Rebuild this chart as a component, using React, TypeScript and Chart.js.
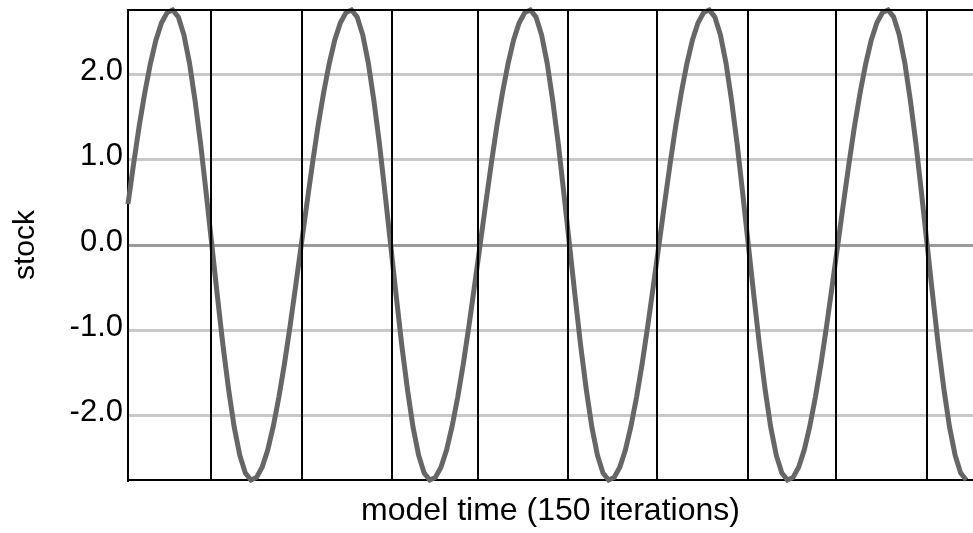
import React, { useEffect, useRef } from "react";
import { Chart, registerables } from "chart.js";

Chart.register(...registerables);

// stock value at each iteration 0..150
const stockValues: number[] = [
  0.48, 0.95, 1.39, 1.78, 2.12, 2.40, 2.60, 2.72, 2.75, 2.67, 2.46, 2.13, 1.69, 1.18, 0.60, 0.00,
  -0.60, -1.18, -1.69, -2.13, -2.46, -2.67, -2.75, -2.72, -2.60, -2.40, -2.12, -1.78, -1.39, -0.95, -0.48, 0.00,
  0.48, 0.95, 1.39, 1.78, 2.12, 2.40, 2.60, 2.72, 2.75, 2.67, 2.46, 2.13, 1.69, 1.18, 0.60, 0.00,
  -0.60, -1.18, -1.69, -2.13, -2.46, -2.67, -2.75, -2.72, -2.60, -2.40, -2.12, -1.78, -1.39, -0.95, -0.48, 0.00,
  0.48, 0.95, 1.39, 1.78, 2.12, 2.40, 2.60, 2.72, 2.75, 2.67, 2.46, 2.13, 1.69, 1.18, 0.60, 0.00,
  -0.60, -1.18, -1.69, -2.13, -2.46, -2.67, -2.75, -2.72, -2.60, -2.40, -2.12, -1.78, -1.39, -0.95, -0.48, 0.00,
  0.48, 0.95, 1.39, 1.78, 2.12, 2.40, 2.60, 2.72, 2.75, 2.67, 2.46, 2.13, 1.69, 1.18, 0.60, 0.00,
  -0.60, -1.18, -1.69, -2.13, -2.46, -2.67, -2.75, -2.72, -2.60, -2.40, -2.12, -1.78, -1.39, -0.95, -0.48, 0.00,
  0.48, 0.95, 1.39, 1.78, 2.12, 2.40, 2.60, 2.72, 2.75, 2.67, 2.46, 2.13, 1.69, 1.18, 0.60, 0.00,
  -0.60, -1.18, -1.69, -2.13, -2.46, -2.67, -2.75,
];

// iterations where the stock changes sign (vertical marker lines)
const signChangeTimes: number[] = [14.85, 31.08, 47.29, 62.68, 78.78, 94.6, 110.98, 126.67, 142.9];

// y-axis tick labels
const yTickValues: number[] = [-2, -1, 0, 1, 2];

const yMin = -2.75;
const yMax = 2.75;
const xMin = 0;
const xMax = 151.2;

const FONT = "'Liberation Sans', Arial, sans-serif";

const markerPlugin = {
  id: "markers",
  afterDatasetsDraw(chart: any) {
    const { ctx, chartArea, scales } = chart;
    const { left, right, top, bottom } = chartArea;
    const x = scales.x;
    ctx.save();
    ctx.strokeStyle = "#000";
    ctx.lineWidth = 2;
    signChangeTimes.forEach((t) => {
      const px = Math.round(x.getPixelForValue(t));
      ctx.beginPath();
      ctx.moveTo(px, top);
      ctx.lineTo(px, bottom);
      ctx.stroke();
    });
    ctx.beginPath();
    ctx.moveTo(left, top);
    ctx.lineTo(right, top);
    ctx.stroke();
    ctx.restore();
  },
};

export default function App() {
  const canvasRef = useRef<HTMLCanvasElement | null>(null);

  useEffect(() => {
    document.body.style.margin = "0";
    const canvas = canvasRef.current;
    if (!canvas) return;
    const chart = new Chart(canvas, {
      type: "line",
      data: {
        datasets: [
          {
            label: "stock",
            data: stockValues.map((v, i) => ({ x: i, y: v })),
            borderColor: "#666666",
            borderWidth: 5,
            pointRadius: 0,
            tension: 0,
            fill: false,
            clip: 3,
          } as any,
        ],
      },
      options: {
        animation: false,
        responsive: false,
        devicePixelRatio: 1,
        layout: { padding: { top: 10, right: 0, bottom: 0, left: 0 } },
        plugins: {
          legend: { display: false },
          tooltip: { enabled: false },
        },
        scales: {
          x: {
            type: "linear",
            min: xMin,
            max: xMax,
            afterFit: (s: any) => {
              s.height = 53;
              s.paddingLeft = 0;
              s.paddingRight = 0;
            },
            grid: { display: false },
            border: { display: true, color: "#000", width: 2 },
            ticks: { display: false },
            title: {
              display: true,
              text: "model time (150 iterations)",
              color: "#000",
              font: { family: FONT, size: 32 },
              padding: { top: 0, bottom: 3 },
            },
          },
          y: {
            type: "linear",
            min: yMin,
            max: yMax,
            afterBuildTicks: (s: any) => {
              s.ticks = yTickValues.map((v) => ({ value: v }));
            },
            afterFit: (s: any) => {
              s.width = 128;
              s.paddingTop = 0;
              s.paddingBottom = 0;
            },
            grid: {
              color: (c: any) => (c.tick && c.tick.value === 0 ? "#9a9a9a" : "#c8c8c8"),
              lineWidth: 3,
              drawTicks: false,
            },
            border: { display: true, color: "#000", width: 2 },
            ticks: {
              color: "#000",
              font: { family: FONT, size: 31 },
              padding: 5,
              labelOffset: -3,
              callback: (v: any) => Number(v).toFixed(1),
            },
            title: {
              display: true,
              text: "stock",
              color: "#000",
              font: { family: FONT, size: 30 },
              padding: { top: 8, bottom: 0 },
            },
          },
        },
      },
      plugins: [markerPlugin],
    });
    return () => chart.destroy();
  }, []);

  return (
    <div style={{ width: 973, height: 533, background: "#fff" }}>
      <canvas ref={canvasRef} width={973} height={533} style={{ display: "block" }} />
    </div>
  );
}
